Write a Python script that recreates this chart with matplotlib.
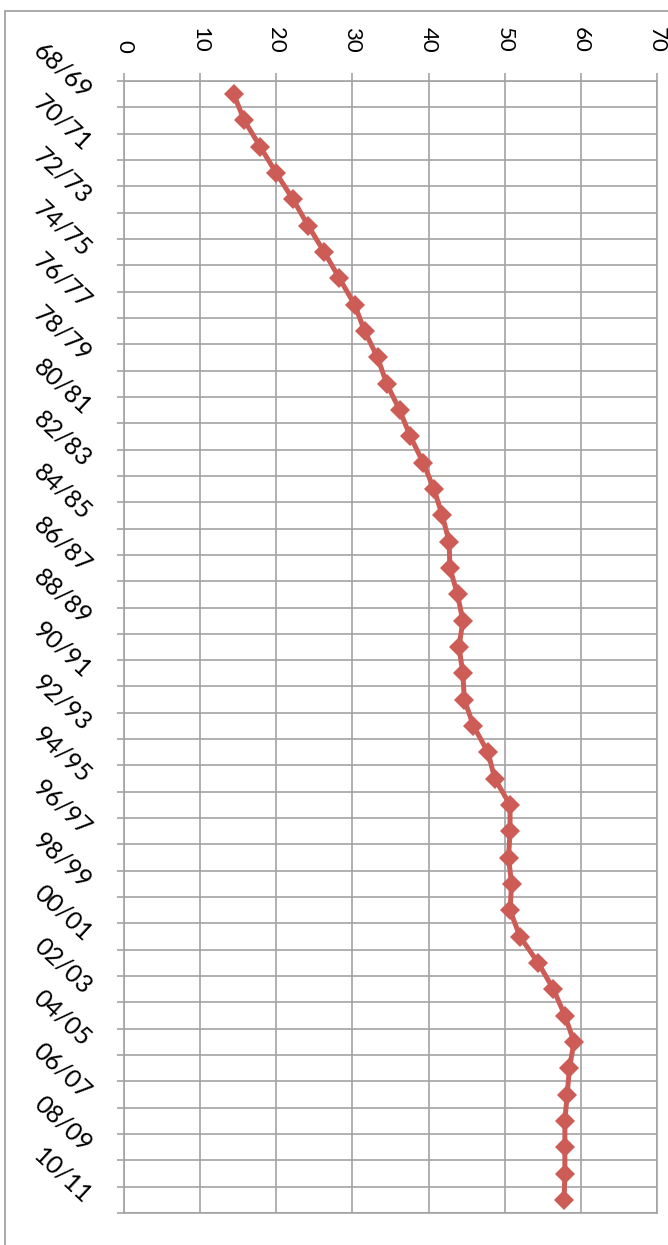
import matplotlib
matplotlib.use("Agg")
import matplotlib.pyplot as plt
from matplotlib.patches import Rectangle
from matplotlib.ticker import FixedLocator, NullFormatter

# ---- data ----
start_years = list(range(1968, 2011))
categories = [f"{y % 100:02d}/{(y + 1) % 100:02d}" for y in start_years]
values = [14.4, 15.8, 17.9, 20.0, 22.2, 24.2, 26.3, 28.3, 30.3, 31.6,
          33.3, 34.5, 36.2, 37.6, 39.3, 40.7, 41.8, 42.7, 42.8, 43.8,
          44.5, 44.0, 44.5, 44.7, 45.9, 47.8, 48.7, 50.7, 50.7, 50.5,
          50.9, 50.7, 52.0, 54.4, 56.4, 57.9, 59.1, 58.5, 58.2, 57.9,
          57.9, 57.9, 57.8]
value_ticks = [0, 10, 20, 30, 40, 50, 60, 70]

W, H = 668, 1245
fig = plt.figure(figsize=(W / 100, H / 100), dpi=100)
plt.rcParams['font.family'] = ['Lato', 'DejaVu Sans']

grid_c = '#A3A3A3'
line_c = '#CD5C57'

# outer chart frame (partly cropped)
fig.patches.append(Rectangle((5 / W, -0.1), 1.2, 1 - 11 / H + 0.1,
                             transform=fig.transFigure, fill=False,
                             edgecolor=grid_c, linewidth=1.3))

left, right = 124 / W, 657 / W
top, bottom = 1 - 81 / H, 1 - 1213 / H
ax = fig.add_axes([left, bottom, right - left, top - bottom])

n = len(categories)
pos = list(range(n))
ax.plot(values, pos, color=line_c, linewidth=3.6, marker='D',
        markersize=10, markeredgewidth=0, zorder=3)

ax.set_xlim(0, 70)
ax.set_ylim(n - 0.5, -0.5)

# value axis on top
ax.xaxis.set_ticks_position('top')
ax.xaxis.set_label_position('top')
ax.set_xticks(value_ticks)
ax.set_xticklabels([str(v) for v in value_ticks], rotation=-90, fontsize=16)
ax.tick_params(axis='x', which='major', length=6, width=1.2, color=grid_c,
               pad=14, direction='out')

# category axis on the left
ax.yaxis.set_major_locator(FixedLocator([i - 0.5 for i in range(n + 1)]))
ax.yaxis.set_major_formatter(NullFormatter())
ax.yaxis.set_minor_locator(FixedLocator(pos[::2]))
ax.set_yticklabels([categories[i] for i in pos[::2]], minor=True)
ax.tick_params(axis='y', which='major', length=5, width=1.2, color=grid_c,
               direction='out')
ax.tick_params(axis='y', which='minor', length=0, pad=26, labelsize=18)
for lab in ax.get_yticklabels(minor=True):
    lab.set_rotation(-43)
    lab.set_rotation_mode('anchor')
    lab.set_ha('right')
    lab.set_va('center')

ax.grid(True, which='major', color=grid_c, linewidth=1.2)
ax.set_axisbelow(True)
for s in ax.spines.values():
    s.set_color(grid_c)
    s.set_linewidth(1.2)

fig.savefig('out.png', dpi=100)
